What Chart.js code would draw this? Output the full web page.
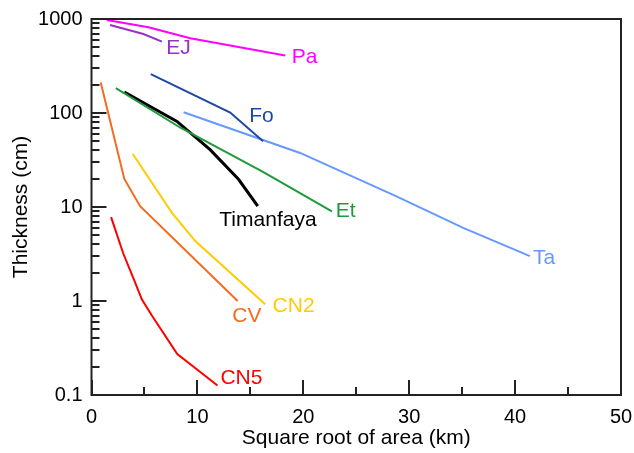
<!DOCTYPE html>
<html>
<head>
<meta charset="utf-8">
<script src="https://cdn.jsdelivr.net/npm/chart.js@4/dist/chart.umd.min.js"></script>
<style>
html,body{margin:0;padding:0;background:#fff;}
#wrap{width:634px;height:453px;}
</style>
</head>
<body>
<div id="wrap"><canvas id="c" width="634" height="453"></canvas></div>
<script>
// ---- data (square root of area in km, thickness in cm) ----
const paX = [1.44, 5.38, 9.33, 18.3];
const paY = [975, 816, 624, 410];
const ejX = [1.75, 4.9, 6.65];
const ejY = [864, 693, 574];
const foX = [5.6, 13.1, 16.2];
const foY = [259, 101, 50];
const taX = [8.7, 19.7, 28.8, 35.1, 41.4];
const taY = [102, 37.6, 13.0, 6.0, 3.0];
const etX = [2.3, 8.4, 16.15, 22.7];
const etY = [184, 69.7, 23.8, 8.96];
const timX = [3.1, 8.07, 11.2, 13.9, 15.7];
const timY = [167, 81.3, 40.7, 19.6, 10.2];
const cvX = [0.87, 3.1, 4.59, 13.8];
const cvY = [211, 19.9, 10.2, 1.0];
const cn2X = [3.9, 7.6, 9.8, 16.4];
const cn2Y = [36.6, 8.67, 4.34, 0.925];
const cn5X = [1.85, 3.0, 4.0, 4.75, 5.7, 8.1, 11.9];
const cn5Y = [7.8, 3.2, 1.7, 1.04, 0.7, 0.272, 0.126];

const seriesNames = ['Pa', 'EJ', 'Fo', 'Ta', 'Et', 'Timanfaya', 'CV', 'CN2', 'CN5'];
const yTickValues = [0.1, 1, 10, 100, 1000];
const xTickValues = [0, 10, 20, 30, 40, 50];
const xMinorValues = [5, 15, 25, 35, 45];

// label anchors in data units (left edge x, middle y)
const labelAtX = [18.9, 7.05, 14.9, 41.7, 23.06, 12.07, 13.3, 17.1, 12.17];
const labelAtY = [395, 492, 93.5, 2.85, 8.96, 7.2, 0.69, 0.88, 0.151];

const colors = ['#ff00ff', '#9b30c8', '#1e48a6', '#6699ff', '#1f9a3a', '#000000', '#f46b1e', '#ffcc00', '#ff0000'];
const widths = [2, 2, 2, 2, 2, 3, 2, 2, 2];

const xs = [paX, ejX, foX, taX, etX, timX, cvX, cn2X, cn5X];
const ys = [paY, ejY, foY, taY, etY, timY, cvY, cn2Y, cn5Y];

const FONT = 'Liberation Sans, Arial, sans-serif';

const datasets = seriesNames.map((n, i) => ({
  label: n,
  data: xs[i].map((x, j) => ({x: x, y: ys[i][j]})),
  borderColor: colors[i],
  backgroundColor: colors[i],
  borderWidth: widths[i],
  pointRadius: 0,
  tension: 0,
  fill: false
}));

const frameTicks = {
  id: 'frameTicks',
  afterDraw(chart) {
    const ctx = chart.ctx;
    const a = chart.chartArea;
    const xs_ = chart.scales.x, ys_ = chart.scales.y;
    ctx.save();
    ctx.strokeStyle = '#222';
    ctx.lineWidth = 2;
    ctx.strokeRect(a.left, a.top, a.right - a.left, a.bottom - a.top);
    ctx.beginPath();
    // y ticks (inward)
    for (let d = -1; d < 3; d++) {
      for (let m = 1; m <= 9; m++) {
        const v = m * Math.pow(10, d);
        const py = Math.round(ys_.getPixelForValue(v));
        const len = m === 1 ? 15 : 8;
        ctx.moveTo(a.left, py); ctx.lineTo(a.left + len, py);
      }
    }
    const ptop = Math.round(ys_.getPixelForValue(1000));
    ctx.moveTo(a.left, ptop); ctx.lineTo(a.left + 15, ptop);
    // x ticks (inward)
    xTickValues.forEach(v => {
      const px = Math.round(xs_.getPixelForValue(v));
      ctx.moveTo(px, a.bottom); ctx.lineTo(px, a.bottom - 15);
    });
    xMinorValues.forEach(v => {
      const px = Math.round(xs_.getPixelForValue(v));
      ctx.moveTo(px, a.bottom); ctx.lineTo(px, a.bottom - 8);
    });
    ctx.stroke();
    // series labels
    ctx.font = '21px ' + FONT;
    ctx.textBaseline = 'middle';
    ctx.textAlign = 'left';
    seriesNames.forEach((n, i) => {
      ctx.fillStyle = colors[i];
      ctx.fillText(n, xs_.getPixelForValue(labelAtX[i]), ys_.getPixelForValue(labelAtY[i]));
    });
    ctx.restore();
  }
};

new Chart(document.getElementById('c'), {
  type: 'line',
  data: { datasets: datasets },
  options: {
    responsive: false,
    devicePixelRatio: 1,
    animation: false,
    layout: { padding: { top: 19, right: 13, left: 0, bottom: 0 } },
    plugins: { legend: { display: false }, tooltip: { enabled: false } },
    scales: {
      x: {
        type: 'linear', min: 0, max: 50,
        afterBuildTicks(s) { s.ticks = xTickValues.map(v => ({value: v})); },
        afterFit(s) { s.height = 58; s.paddingRight = 0; s.paddingLeft = 0; },
        grid: { display: false, drawTicks: false },
        border: { display: false },
        ticks: { color: '#000', padding: 10, font: { family: FONT, size: 20 }, maxRotation: 0 },
        title: { display: true, text: 'Square root of area (km)', color: '#000',
                 font: { family: FONT, size: 21 }, padding: { top: 0, bottom: 2 } }
      },
      y: {
        type: 'logarithmic', min: 0.1, max: 1000,
        afterBuildTicks(s) { s.ticks = yTickValues.map(v => ({value: v})); },
        afterFit(s) { s.width = 91.5; s.paddingTop = 0; s.paddingBottom = 0; },
        grid: { display: false, drawTicks: false },
        border: { display: false },
        ticks: { color: '#000', padding: 9, font: { family: FONT, size: 20 },
                 callback: (v) => String(v) },
        title: { display: true, text: 'Thickness (cm)', color: '#000',
                 font: { family: FONT, size: 21 }, padding: { top: 9, bottom: 0 } }
      }
    }
  },
  plugins: [frameTicks]
});
</script>
</body>
</html>
